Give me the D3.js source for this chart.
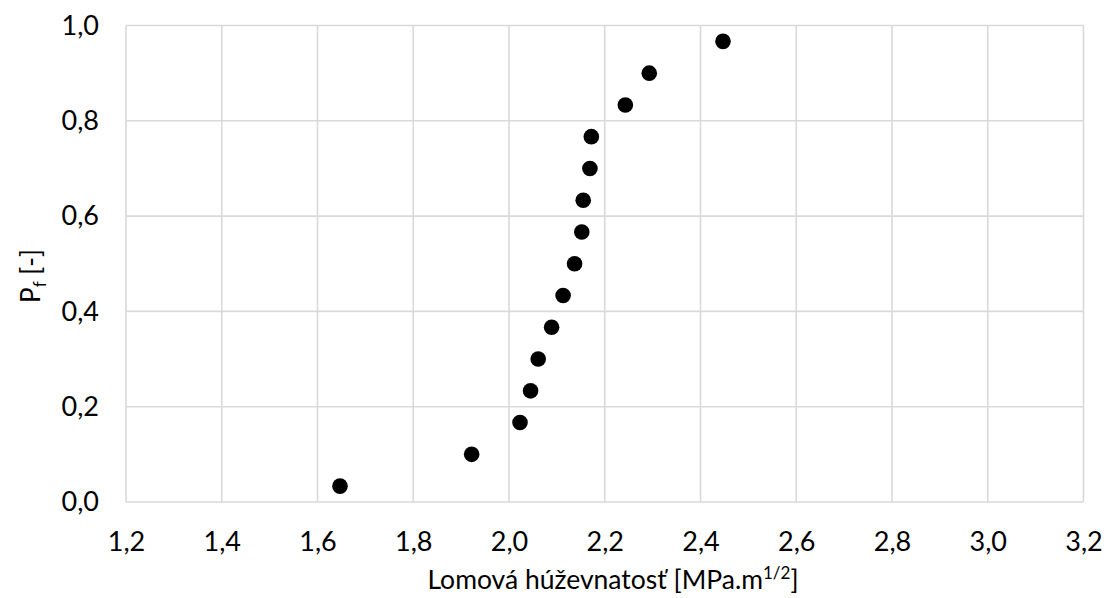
<!DOCTYPE html>
<html><head><meta charset="utf-8">
<script src="https://cdn.jsdelivr.net/npm/d3@7"></script>
<style>body{margin:0;background:#fff}text{font-family:Lato,"Open Sans",sans-serif;fill:#000}</style>
</head><body><svg id="c" width="1107" height="598"></svg>
<script>
const toughness = [1.647,1.922,2.023,2.045,2.061,2.089,2.113,2.137,2.152,2.155,2.169,2.172,2.243,2.293,2.447];
const probability = [0.0333,0.1,0.1667,0.2333,0.3,0.3667,0.4333,0.5,0.5667,0.6333,0.7,0.7667,0.8333,0.9,0.9667];
const xTicks = [1.2,1.4,1.6,1.8,2.0,2.2,2.4,2.6,2.8,3.0,3.2];
const yTicks = [0,0.2,0.4,0.6,0.8,1.0];

const svg = d3.select("#c");
const m = {l:126,r:1083.5,t:25.5,b:502};
const x = d3.scaleLinear().domain([1.2,3.2]).range([m.l,m.r]);
const y = d3.scaleLinear().domain([0,1]).range([m.b,m.t]);
const fmt = d => d3.format(".1f")(d).replace(".",",");

const grid = svg.append("g").attr("stroke","#d9d9d9").attr("stroke-width",1.6);
grid.selectAll(".gx").data(xTicks).join("line")
  .attr("x1",d=>x(d)).attr("x2",d=>x(d)).attr("y1",m.t).attr("y2",m.b);
grid.selectAll(".gy").data(yTicks).join("line")
  .attr("y1",d=>y(d)).attr("y2",d=>y(d)).attr("x1",m.l).attr("x2",m.r);

const xAxis = svg.append("g").attr("transform",`translate(0,${m.b})`)
  .call(d3.axisBottom(x).tickValues(xTicks).tickFormat(fmt).tickSize(0).tickPadding(30));
xAxis.select(".domain").remove();
xAxis.selectAll("text").attr("font-size",27).style("font-family","Lato");

const yAxis = svg.append("g").attr("transform",`translate(${m.l},0)`)
  .call(d3.axisLeft(y).tickValues(yTicks).tickFormat(fmt).tickSize(0).tickPadding(27));
yAxis.select(".domain").remove();
yAxis.selectAll("text").attr("font-size",27).style("font-family","Lato");

svg.append("g").selectAll("circle").data(toughness).join("circle")
  .attr("cx",d=>x(d)).attr("cy",(d,i)=>y(probability[i])).attr("r",7.8).attr("fill","#000");

const xt = svg.append("text").attr("x",613).attr("y",589).attr("text-anchor","middle").attr("font-size",26.5);
xt.append("tspan").text("Lomová húževnatosť [MPa.m");
xt.append("tspan").attr("font-size",17).attr("dy",-10).text("1/2");
xt.append("tspan").attr("dy",10).text("]");

const yt = svg.append("text").attr("transform","translate(40,276) rotate(-90)").attr("text-anchor","middle").attr("font-size",26);
yt.append("tspan").text("P");
yt.append("tspan").attr("font-size",17).attr("dy",6).text("f");
yt.append("tspan").attr("dy",-6).text(" [-]");
</script></body></html>
